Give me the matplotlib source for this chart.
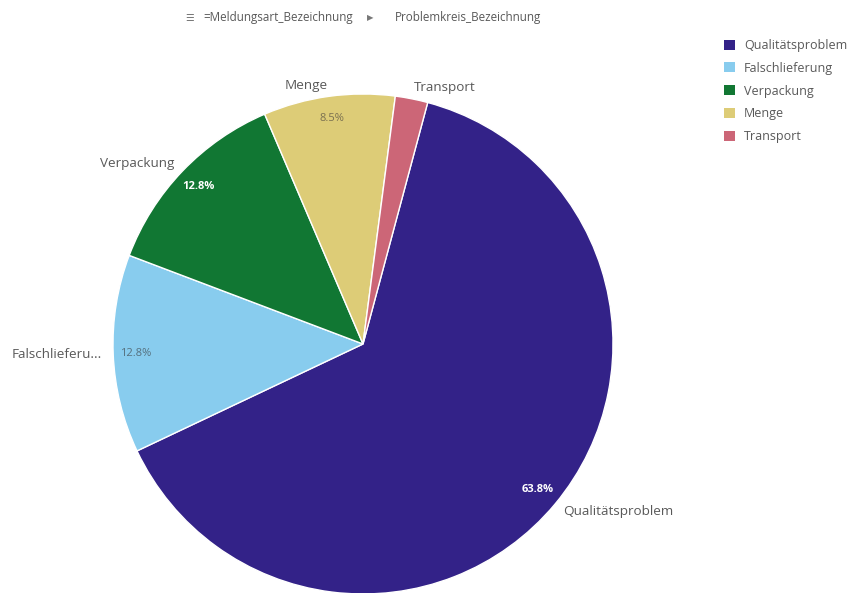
import matplotlib.pyplot as plt
import numpy as np
from matplotlib.patches import Patch

categories = ['Qualitätsproblem', 'Falschlieferung', 'Verpackung', 'Menge', 'Transport']
outer_labels = ['Qualitätsproblem', 'Falschlieferu...', 'Verpackung', 'Menge', 'Transport']
shares = [63.8, 12.8, 12.8, 8.5, 2.1]
pct_labels = ['63.8%', '12.8%', '12.8%', '8.5%', '']
colors = ['#332288', '#88CCEE', '#117733', '#DDCC77', '#CC6677']
pct_colors = ['white', '#55707e', 'white', '#7a7050', 'white']

plt.rcParams['font.family'] = ['Open Sans', 'DejaVu Sans']

W, H = 849, 593
fig = plt.figure(figsize=(W / 100, H / 100), dpi=100)
ax = fig.add_axes([0, 0, 1, 1])

cx, cy, R = 363, H - 344, 250
start = 75  # degrees, counter-clockwise from x axis

wedges, _ = ax.pie(shares, colors=colors, startangle=start, counterclock=False,
                   center=(cx, cy), radius=R, frame=True,
                   wedgeprops=dict(edgecolor='white', linewidth=1))
ax.set_xlim(0, W)
ax.set_ylim(0, H)
ax.axis('off')

for w, lab, pl, pc in zip(wedges, outer_labels, pct_labels, pct_colors):
    mid = np.deg2rad((w.theta1 + w.theta2) / 2)
    dx, dy = np.cos(mid), np.sin(mid)
    ha = 'left' if dx > 0 else 'right'
    ax.text(cx + dx * R * 1.045, cy + dy * R * 1.045, lab, ha=ha, va='center',
            fontsize=9.7, color='#595959')
    if pl:
        ax.text(cx + dx * R * 0.91, cy + dy * R * 0.91, pl, ha='center', va='center',
                fontsize=8, color=pc, fontweight='bold' if pc == 'white' else 'normal')

# header / drill-down path
hy = 1 - 18 / H
fig.text(185 / W, hy, '☰', fontsize=7, color='#777777', ha='left', va='center',
         family=['DejaVu Sans'])
fig.text(203 / W, hy, '=Meldungsart_Bezeichnung', fontsize=8.4, color='#595959',
         ha='left', va='center')
fig.text(370 / W, hy, '▶', fontsize=6, color='#777777', ha='center', va='center',
         family=['DejaVu Sans'])
fig.text(395 / W, hy, 'Problemkreis_Bezeichnung', fontsize=8.4, color='#595959',
         ha='left', va='center')

handles = [Patch(facecolor=c, label=n) for c, n in zip(colors, categories)]
leg = fig.legend(handles=handles, loc='upper left', bbox_to_anchor=(724 / W, 1 - 39 / H),
                 frameon=False, fontsize=9, handlelength=0.85, handleheight=0.85,
                 handletextpad=0.75, labelspacing=0.78, borderaxespad=0, borderpad=0)
for t in leg.get_texts():
    t.set_color('#595959')

fig.savefig('out.png', dpi=100)
